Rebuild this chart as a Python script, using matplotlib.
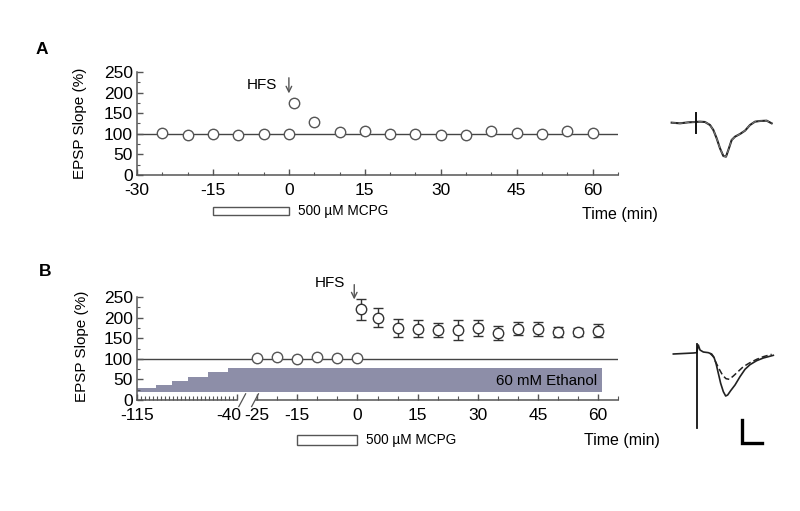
import numpy as np
import matplotlib
matplotlib.use('Agg')
import matplotlib.pyplot as plt
from matplotlib.patches import Rectangle
import matplotlib.transforms as mtransforms

plt.rcParams['font.family'] = ['Liberation Sans', 'DejaVu Sans']
plt.rcParams['axes.unicode_minus'] = False

# ---- panel A: MCPG alone ----
time_a = [-25, -20, -15, -10, -5, 0, 1, 5, 10, 15, 20, 25, 30, 35, 40, 45, 50, 55, 60]
slope_a = [101, 98, 100, 98, 100, 100, 175, 128, 105, 107, 99, 100, 98, 98, 106, 101, 100, 106, 102]
xticks_a = [-30, -15, 0, 15, 30, 45, 60]

# ---- panel B: ethanol + MCPG ----
time_b_pre = [-25, -20, -15, -10, -5, 0]
slope_b_pre = [101, 105, 99, 105, 101, 101]
time_b_post = [1, 5, 10, 15, 20, 25, 30, 35, 40, 45, 50, 55, 60]
slope_b_post = [220, 200, 175, 173, 170, 169, 175, 162, 173, 172, 164, 165, 168]
sem_b_post = [26, 23, 22, 21, 17, 24, 20, 17, 16, 17, 12, 10, 16]
xticks_b = [-115, -40, -25, -15, 0, 15, 30, 45, 60]

# ethanol wash-in steps (real time, level in y units of the plot)
eth_start = [-115, -101, -89, -77, -62, -47]
eth_level = [28, 37, 46, 57, 67, 77]
eth_end = 61
eth_base = 20

# example EPSP traces, readings (arbitrary units)
trace_a_t = [35, 60, 85, 105, 120, 135, 150, 160, 170, 180, 190, 198, 205, 215, 225, 240, 255, 270, 285, 300, 320, 335]
trace_a_v = [68, 70, 67, 66, 65, 66, 75, 90, 115, 145, 168, 170, 150, 120, 110, 102, 92, 75, 65, 63, 62, 70]
trace_b1_t = [40, 60, 80, 100, 110, 115, 120, 130, 145, 155, 162, 168, 175, 182, 190, 197, 203, 212, 225, 240, 255, 270, 290, 310, 325, 340]
trace_b1_v = [72, 71, 70, 69, 68, 45, 60, 66, 68, 72, 82, 100, 130, 160, 185, 198, 195, 182, 165, 140, 118, 104, 92, 84, 80, 76]
trace_b2_t = [150, 160, 168, 178, 188, 198, 208, 220, 235, 250, 270, 290, 310, 335]
trace_b2_v = [70, 80, 98, 118, 136, 146, 148, 138, 124, 110, 98, 88, 80, 73]

GRAY = '#555555'
BAR = '#8d8ea8'
FS = 11.5
TICK_FS = 12.5


def fx(px):
    return px / 800.0


def fy(py):
    return 1 - py / 511.0


def brk(t):
    # compress the pre-recording period (before -40 min) 3x, leave a gap before -25
    t = np.asarray(t, dtype=float)
    return np.where(t <= -40, -30 + (t + 40) / 3.0, t)


def style_axes(ax):
    for s in ['top', 'right']:
        ax.spines[s].set_visible(False)
    for s in ['left', 'bottom']:
        ax.spines[s].set_color(GRAY)
        ax.spines[s].set_linewidth(1.1)
    ax.set_ylim(0, 250)
    ax.set_yticks(np.arange(0, 251, 50))
    ax.set_yticks(np.arange(25, 250, 50), minor=True)
    ax.tick_params(which='major', direction='in', length=4, width=1, color=GRAY, labelsize=TICK_FS)
    ax.tick_params(which='minor', direction='in', length=2, width=0.8, color=GRAY)
    ax.tick_params(axis='x', pad=6)
    ax.tick_params(axis='y', pad=3)


fig = plt.figure(figsize=(8, 5.11), dpi=100)

# ---------------- A ----------------
axa = fig.add_axes([fx(137), fy(175), fx(618) - fx(137), 103 / 511.0])
style_axes(axa)
axa.set_xlim(-30, 65)
axa.set_xticks(xticks_a)
axa.set_xticks(np.arange(-25, 66, 5), minor=True)
axa.axhline(100, color='#444444', lw=1, zorder=1)
axa.plot(time_a, slope_a, 'o', ms=7.5, mfc='white', mec=GRAY, mew=1, ls='none', zorder=3)
axa.annotate('', xy=(0, 198), xytext=(0, 236), annotation_clip=False,
             arrowprops=dict(arrowstyle='->', color=GRAY, lw=1, shrinkA=0, shrinkB=0))
axa.text(-2.3, 218, 'HFS', ha='right', va='center', fontsize=11)
tra = mtransforms.blended_transform_factory(axa.transData, axa.transAxes)
axa.add_patch(Rectangle((-15, -0.388), 15, 0.078, transform=tra, clip_on=False,
                        fill=False, ec=GRAY, lw=1))
axa.text(1.8, -0.35, '500 \u00b5M MCPG', transform=tra, ha='left', va='center', fontsize=9.8)
fig.text(fx(582), fy(214), 'Time (min)', ha='left', va='center', fontsize=FS)
fig.text(fx(80), fy(123), 'EPSP Slope (%)', rotation=90, ha='center', va='center', fontsize=11)
fig.text(fx(36), fy(49), 'A', fontsize=12.5, fontweight='bold', va='center')

# ---------------- B ----------------
axb = fig.add_axes([fx(137), fy(400), fx(618) - fx(137), 103 / 511.0])
style_axes(axb)
axb.set_xlim(-55, 65)
axb.spines['bottom'].set_visible(False)
axb.set_xticks(brk(xticks_b))
axb.set_xticklabels([str(v) for v in xticks_b])
minor_b = np.concatenate([brk(np.arange(-112, -40, 3)), np.arange(-20, 66, 5)])
axb.set_xticks(minor_b, minor=True)
axb.tick_params(axis='x', which='minor', length=3)
# nudge the "-40" label left so it does not run into "-25"
lab40 = axb.get_xticklabels()[1]
lab40.set_transform(lab40.get_transform() + mtransforms.ScaledTranslation(-6 / 72, 0, fig.dpi_scale_trans))
# broken bottom axis
axb.plot(brk([-115, -40]), [0, 0], color=GRAY, lw=1.1, clip_on=False, zorder=5)
axb.plot([-25.3, 65], [0, 0], color=GRAY, lw=1.1, clip_on=False, zorder=5)
axb.plot([-29.6, -27.9], [-16, 15], color=GRAY, lw=0.9, clip_on=False, zorder=5)
axb.plot([-26.4, -24.7], [-16, 15], color=GRAY, lw=0.9, clip_on=False, zorder=5)

eth_x = brk(eth_start + [eth_end])
eth_y = eth_level + [eth_level[-1]]
axb.fill_between(eth_x, eth_base, eth_y, step='post', color=BAR, lw=0, zorder=1)
axb.text(59.8, 46, '60 mM Ethanol', ha='right', va='center', fontsize=10.8, zorder=2)
axb.axhline(100, color='#444444', lw=1, zorder=1)
axb.plot(time_b_pre, slope_b_pre, 'o', ms=7.5, mfc='white', mec=GRAY, mew=1, ls='none', zorder=3)
axb.errorbar(time_b_post, slope_b_post, yerr=sem_b_post, fmt='none', ecolor='#333333',
             elinewidth=1, capsize=3.6, capthick=1, zorder=2)
axb.plot(time_b_post, slope_b_post, 'o', ms=7.5, mfc='white', mec='#333333', mew=1, ls='none', zorder=3)
axb.annotate('', xy=(-0.8, 244), xytext=(-0.8, 280), annotation_clip=False,
             arrowprops=dict(arrowstyle='->', color=GRAY, lw=1, shrinkA=0, shrinkB=0))
axb.text(-3.1, 283, 'HFS', ha='right', va='center', fontsize=11)
trb = mtransforms.blended_transform_factory(axb.transData, axb.transAxes)
axb.add_patch(Rectangle((-15, -0.437), 15, 0.097, transform=trb, clip_on=False,
                        fill=False, ec=GRAY, lw=1))
axb.text(2.2, -0.39, '500 \u00b5M MCPG', transform=trb, ha='left', va='center', fontsize=9.8)
fig.text(fx(584), fy(440), 'Time (min)', ha='left', va='center', fontsize=FS)
fig.text(fx(82), fy(346), 'EPSP Slope (%)', rotation=90, ha='center', va='center', fontsize=11)
fig.text(fx(39), fy(272), 'B', fontsize=12.5, fontweight='bold', va='center')

# ---------------- traces ----------------
tr1 = fig.add_axes([fx(660), fy(170), 130 / 800.0, 70 / 511.0])
tr1.set_xlim(0, 390)
tr1.set_ylim(210, 0)
tr1.axis('off')
tr1.plot(trace_a_t, trace_a_v, color='#222222', lw=1.5)
tr1.plot(trace_a_t, trace_a_v, color='#777777', lw=0.8, ls=(0, (4, 2)))
tr1.plot([107, 107], [40, 98], color='#111111', lw=1.4)

tr2 = fig.add_axes([fx(660), fy(450), 130 / 800.0, 120 / 511.0])
tr2.set_xlim(0, 390)
tr2.set_ylim(360, 0)
tr2.axis('off')
tr2.plot(trace_b1_t, trace_b1_v, color='#222222', lw=1.2)
tr2.plot(trace_b2_t, trace_b2_v, color='#222222', lw=1.1, ls=(0, (4, 2)))
tr2.plot([110, 110], [42, 295], color='#111111', lw=1.3)
tr2.plot([245, 245, 305], [270, 340, 340], color='black', lw=2.4, solid_joinstyle='miter')

fig.savefig('out.png', dpi=100)
